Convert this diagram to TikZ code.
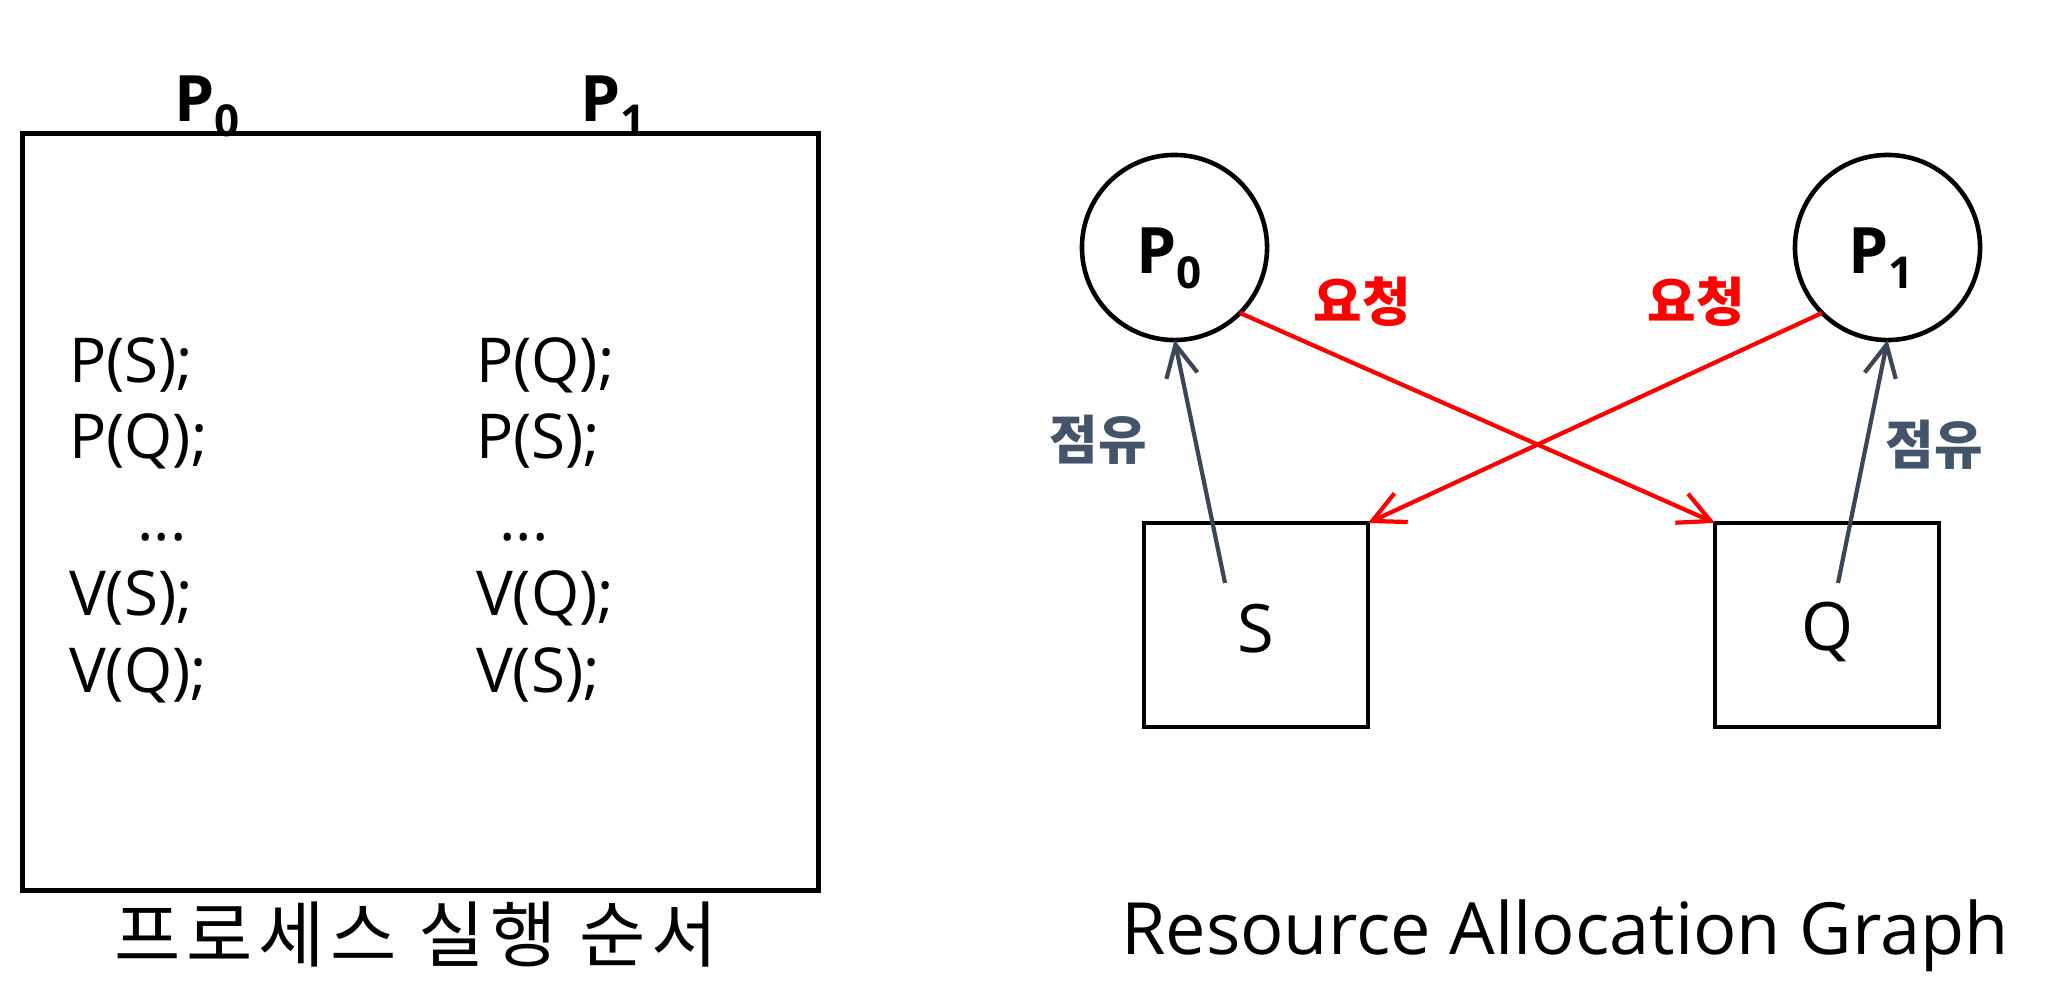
\documentclass[tikz,border=0pt]{standalone}
\usepackage{fontspec}
\setmainfont{Open Sans}
\newfontfamily\kr{Noto Sans CJK KR}
\newfontfamily\krwide[LetterSpace=8]{Noto Sans CJK KR}
\usetikzlibrary{arrows.meta}
\definecolor{slate}{HTML}{3C4657}
\definecolor{slatetxt}{HTML}{44546A}
\definecolor{reqred}{HTML}{FF0000}
\newcommand{\procname}[1]{P\raisebox{-4.3pt}{\fontsize{12.5}{13}\selectfont #1}}
\begin{document}
\begin{tikzpicture}[x=0.01cm,y=-0.01cm,
  every node/.style={inner sep=0pt, outer sep=0pt},
  frm/.style={draw, line width=1.3pt},
  codetxt/.style={anchor=base west, font=\fontsize{17.6}{20}\selectfont},
  dotstxt/.style={anchor=base, font=\fontsize{17.6}{20}\selectfont},
  proclbl/.style={anchor=base west, font=\bfseries\fontsize{18.2}{20}\selectfont},
  circ/.style={draw, line width=1.3pt, circle, minimum size=1.85cm},
  res/.style={draw, line width=1.3pt, rectangle, minimum width=2.24cm, minimum height=2.04cm},
  restxt/.style={anchor=base, font=\fontsize{19}{22}\selectfont},
  occ/.style={draw=slate, line width=1.2pt, -{Straight Barb[length=9pt,width=9pt]}},
  req/.style={draw=reqred, line width=1.2pt, -{Straight Barb[length=9pt,width=9pt]}},
  reqlbl/.style={text=reqred, font=\kr\bfseries\fontsize{15}{17}\selectfont},
  occlbl/.style={text=slatetxt, font=\kr\bfseries\fontsize{15}{17}\selectfont},
  capkr/.style={font=\krwide\fontsize{20.5}{24}\selectfont},
  capen/.style={anchor=base, font=\fontsize{20.5}{24}\selectfont}
]
\useasboundingbox (0,0) rectangle (2046,1000);

% left panel
\node[frm, minimum width=7.95cm, minimum height=7.56cm] (frame) at (420.5,512) {};
\node[proclbl] (t0) at (174,121) {\procname{0}};
\node[proclbl] (t1) at (580,121) {\procname{1}};

\node[codetxt] (a1) at (69,382) {P(S);};
\node[codetxt] (a2) at (69,458) {P(Q);};
\node[dotstxt] (a3) at (162,540) {...};
\node[codetxt] (a4) at (69,615) {V(S);};
\node[codetxt] (a5) at (69,692) {V(Q);};

\node[codetxt] (b1) at (476,382) {P(Q);};
\node[codetxt] (b2) at (476,458) {P(S);};
\node[dotstxt] (b3) at (524,540) {...};
\node[codetxt] (b4) at (476,615) {V(Q);};
\node[codetxt] (b5) at (476,692) {V(S);};

\node[capkr] (cap1) at (416,935) {프로세스 실행 순서};

% right panel
\node[circ] (P0) at (1174.5,247.5) {};
\node[circ] (P1) at (1887.5,247.5) {};
\node[proclbl] (P0t) at (1136,273) {\procname{0}};
\node[proclbl] (P1t) at (1848,273) {\procname{1}};

\node[res] (S) at (1256,625) {};
\node[res] (Q) at (1827,625) {};
\node[restxt] (St) at (1256,652) {S};
\node[restxt] (Qt) at (1827,650) {Q};

\coordinate (sA) at (1225,583);
\coordinate (qA) at (1838,583);

\draw[occ] (sA) -- (P0.south);
\draw[occ] (qA) -- (P1.south);
\draw[req] (P0.south east) -- (Q.north west);
\draw[req] (P1.south west) -- (S.north east);

\node[reqlbl] (r0) at (1362,302) {요청};
\node[reqlbl] (r1) at (1696,302) {요청};
\node[occlbl] (o0) at (1098,440) {점유};
\node[occlbl] (o1) at (1934,445) {점유};

\node[capen] (cap2) at (1565,954) {Resource Allocation Graph};
\end{tikzpicture}
\end{document}
